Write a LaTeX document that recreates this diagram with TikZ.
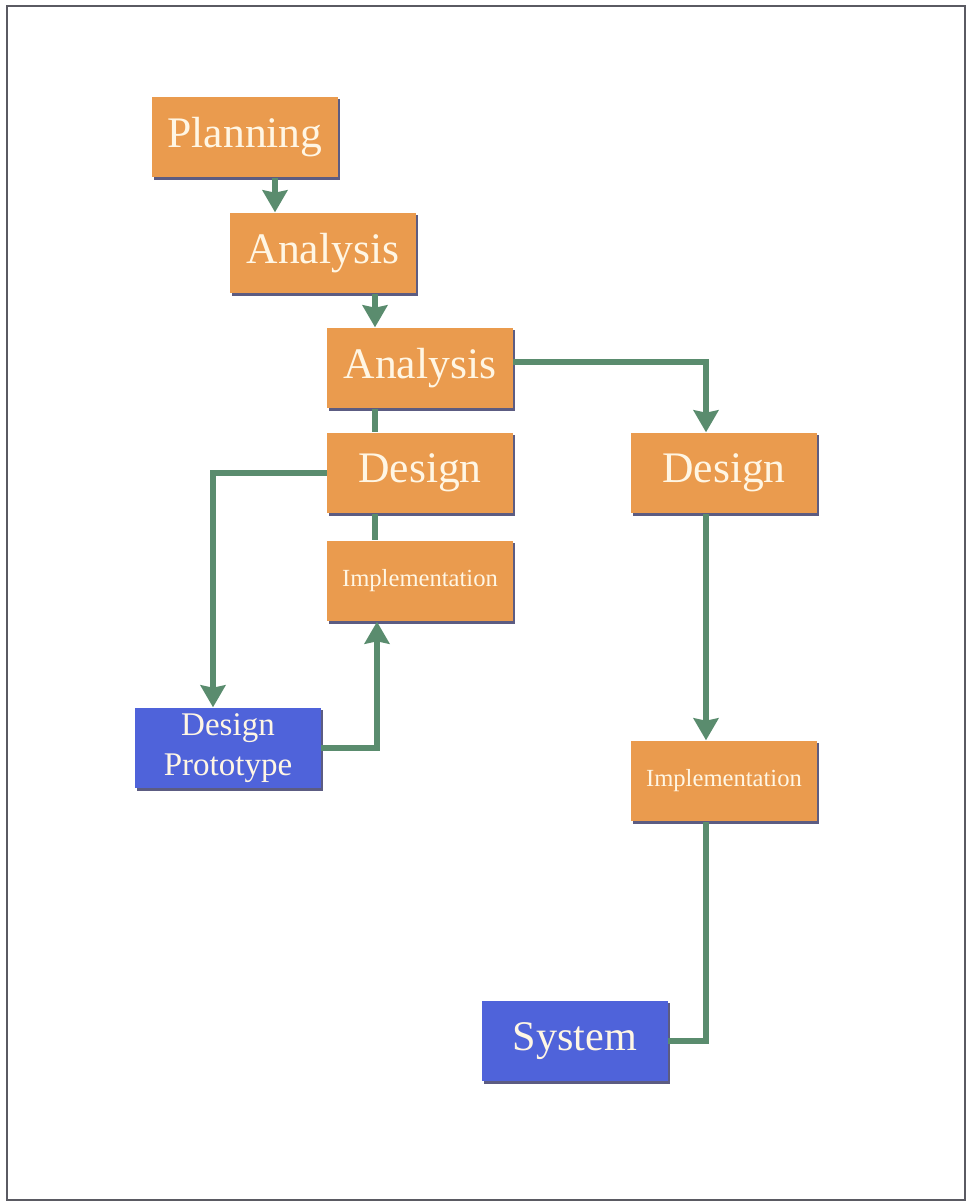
\documentclass[tikz,border=0pt]{standalone}
\usepackage{fontspec}
\setmainfont{Liberation Serif}
\usetikzlibrary{arrows.meta, shadows}
\definecolor{stageorange}{HTML}{EA9B4E}
\definecolor{protoblue}{HTML}{4F63DA}
\definecolor{flowgreen}{HTML}{5A8C6E}
\definecolor{labelcream}{HTML}{FFF6E4}
\definecolor{shadowgrey}{HTML}{5C5C82}
\definecolor{framegrey}{HTML}{5A5A62}

\begin{document}
\begin{tikzpicture}[x=0.025cm, y=-0.025cm,
  every node/.style={align=center},
  stagebox/.style={rectangle, fill=stageorange, text=labelcream, inner sep=0pt,
    minimum width=4.65cm, minimum height=2.02cm,
    drop shadow={shadow xshift=0.06cm, shadow yshift=-0.06cm, fill=shadowgrey, opacity=1}},
  protobox/.style={stagebox, fill=protoblue},
  bigtext/.style={font=\fontsize{31}{34}\selectfont},
  smalltext/.style={font=\fontsize{17.5}{20}\selectfont},
  flow/.style={draw=flowgreen, line width=4.4pt},
  flowarrow/.style={flow, -{Stealth[length=0.55cm, width=0.62cm, inset=0.06cm]}}]
  \useasboundingbox (0,0) rectangle (967,1203);
  % --- frame ---
  \draw[framegrey, line width=2pt] (7,6) rectangle (965,1200);

  % --- left column ---
  \node[stagebox, bigtext] (pl)  at (245,137) {Planning};
  \node[stagebox, bigtext] (an1) at (323,253) {Analysis};
  \node[stagebox, bigtext] (an2) at (420,368) {Analysis};
  \node[stagebox, bigtext] (dsL) at (420,473) {Design};
  \node[stagebox, smalltext] (imL) at (420,581) {Implementation};
  \node[protobox, font=\fontsize{23.5}{28.5}\selectfont] (dp) at (228,748) {Design\\Prototype};

  % --- right column ---
  \node[stagebox, bigtext] (dsR) at (724,473) {Design};
  \node[stagebox, smalltext] (imR) at (724,781) {Implementation};
  \node[protobox, font=\fontsize{30}{34}\selectfont] (sy) at (575,1041) {System};

  % --- line positions ---
  \coordinate (x1) at (275,0);
  \coordinate (x2) at (375,0);
  \coordinate (x3) at (213,0);
  \coordinate (x4) at (377,0);
  \coordinate (x5) at (706,0);

  % --- connectors ---
  \draw[flowarrow] (pl.south -| x1) -- (an1.north -| x1);
  \draw[flowarrow] (an1.south -| x2) -- (an2.north -| x2);
  \draw[flow] (an2.south -| x2) -- (dsL.north -| x2);
  \draw[flow] (dsL.south -| x2) -- (imL.north -| x2);
  \draw[flowarrow] (dsL.west) -| (dp.north -| x3);
  \draw[flowarrow] (dp.east) -| (imL.south -| x4);
  \draw[flowarrow] ([yshift=0.15cm]an2.east) -| (dsR.north -| x5);
  \draw[flowarrow] (dsR.south -| x5) -- (imR.north -| x5);
  \draw[flow] (imR.south -| x5) |- (sy.east);
\end{tikzpicture}
\end{document}
